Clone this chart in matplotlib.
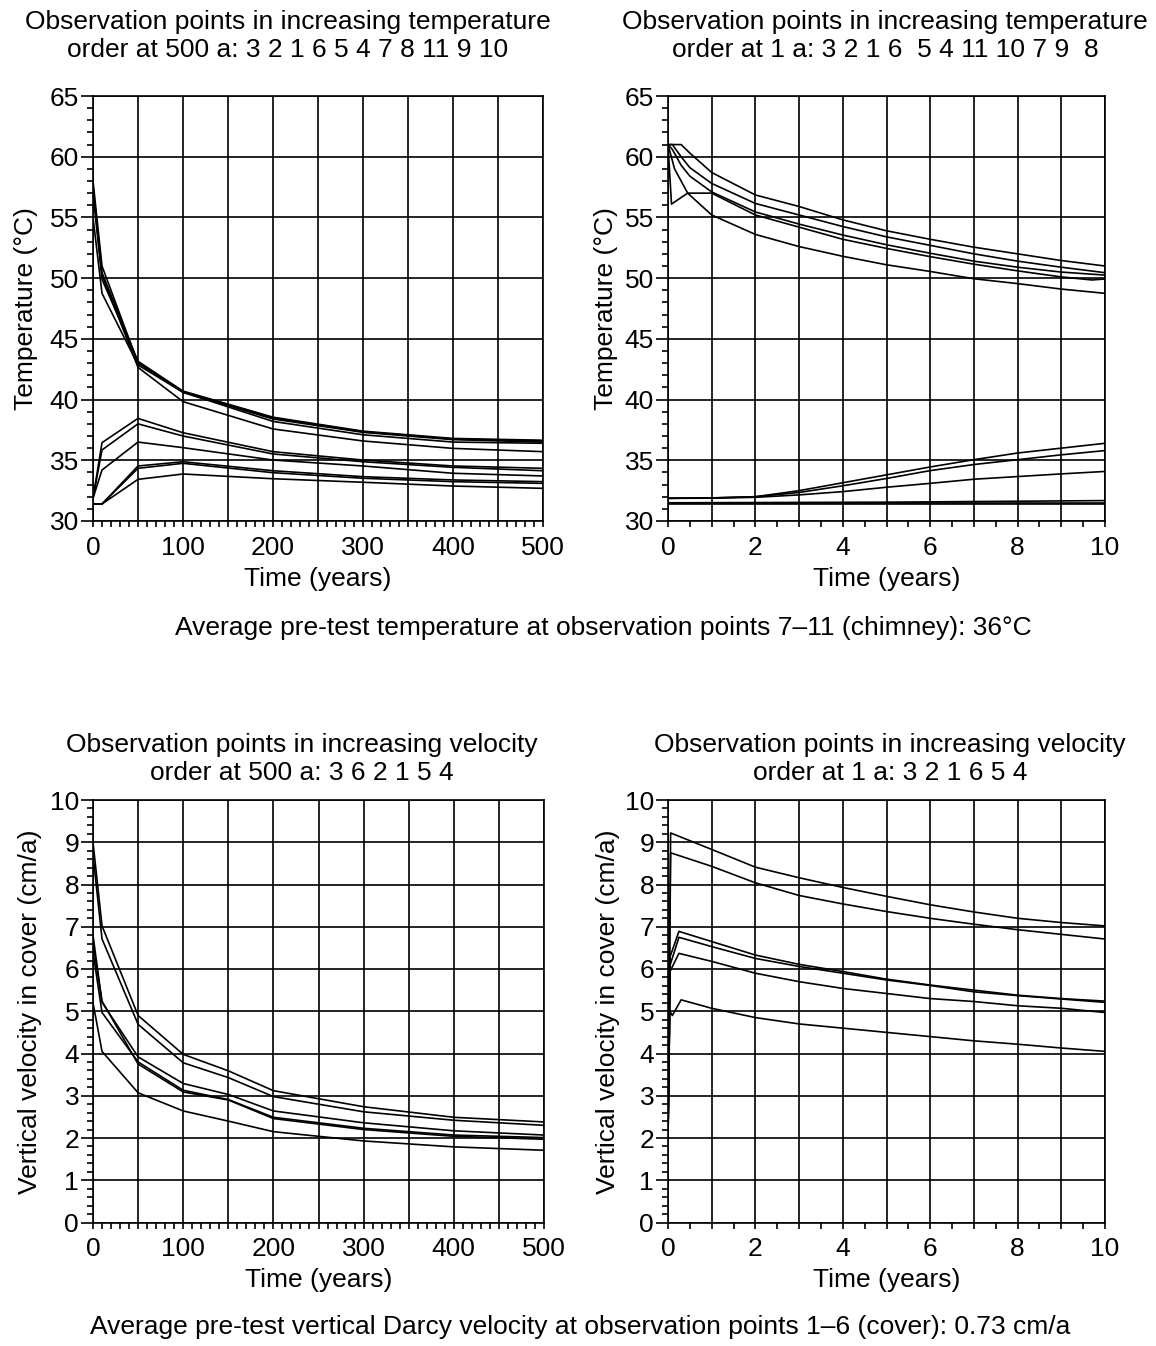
import matplotlib
matplotlib.use("Agg")
import matplotlib.pyplot as plt
from matplotlib.ticker import MultipleLocator, FuncFormatter

plt.rcParams['font.family'] = ['Liberation Sans', 'DejaVu Sans']
FS = 19

# ---------------- Temperature, 0-500 years ----------------
t_long = [0, 10, 50, 100, 200, 300, 400, 500]
temp_long = {
    # chimney points
    7:  [57.5, 50.25, 42.65, 39.83, 37.58, 36.59, 35.98, 35.71],
    8:  [58.0, 51.0, 43.0, 40.6, 38.2, 37.1, 36.5, 36.4],
    11: [55.0, 48.75, 42.85, 40.6, 38.4, 37.3, 36.7, 36.5],
    9:  [57.5, 50.45, 43.1, 40.65, 38.5, 37.35, 36.75, 36.6],
    10: [57.0, 49.9, 43.15, 40.7, 38.55, 37.4, 36.8, 36.65],
    # cover points
    4:  [31.87, 36.45, 38.45, 37.27, 35.71, 35.02, 34.53, 34.34],
    5:  [31.87, 35.85, 38.0, 37.0, 35.52, 34.88, 34.42, 34.14],
    6:  [31.87, 34.2, 36.5, 36.04, 35.02, 34.53, 33.93, 33.71],
    1:  [31.4, 31.4, 34.53, 34.88, 34.14, 33.65, 33.38, 33.24],
    2:  [31.4, 31.4, 34.34, 34.75, 33.98, 33.52, 33.24, 33.1],
    3:  [31.4, 31.4, 33.43, 33.87, 33.48, 33.19, 32.88, 32.69],
}

# ---------------- Temperature, 0-10 years ----------------
t_short_std = [0, 0.1, 0.3, 0.5, 1, 2, 3, 4, 5, 6, 7, 8, 9, 10]
temp_short = {
    8:  (t_short_std, [61.0, 61.0, 61.0, 60.3, 58.7, 56.85, 55.9, 54.8, 53.9, 53.2, 52.55, 52.0, 51.45, 51.0]),
    9:  (t_short_std, [61.0, 61.0, 60.0, 59.1, 57.8, 56.15, 55.2, 54.25, 53.4, 52.7, 52.0, 51.4, 50.9, 50.45]),
    7:  (t_short_std, [61.0, 60.6, 59.3, 58.4, 57.1, 55.45, 54.45, 53.55, 52.75, 52.05, 51.4, 50.9, 50.5, 50.25]),
    10: ([0, 0.08, 0.45, 1, 2, 3, 4, 5, 6, 7, 8, 9, 9.7, 10],
         [61.0, 56.1, 57.0, 57.0, 55.2, 54.2, 53.2, 52.45, 51.77, 51.15, 50.6, 50.1, 49.85, 49.93]),
    11: ([0, 0.15, 0.45, 1, 2, 3, 4, 5, 6, 7, 8, 9, 10],
         [61.0, 59.0, 57.0, 55.2, 53.6, 52.6, 51.8, 51.1, 50.55, 49.95, 49.55, 49.1, 48.75]),
    4:  ([0, 1, 2, 3, 4, 5, 6, 7, 8, 9, 10],
         [31.87, 31.9, 32.0, 32.5, 33.15, 33.8, 34.45, 35.05, 35.6, 36.0, 36.4]),
    5:  ([0, 1, 2, 3, 4, 5, 6, 7, 8, 9, 10],
         [31.87, 31.9, 32.0, 32.35, 32.9, 33.5, 34.15, 34.65, 35.05, 35.45, 35.8]),
    6:  ([0, 1, 2, 3, 4, 5, 6, 7, 8, 9, 10],
         [31.87, 31.88, 31.95, 32.15, 32.42, 32.78, 33.1, 33.44, 33.66, 33.88, 34.08]),
    1:  ([0, 5, 10], [31.5, 31.55, 31.68]),
    2:  ([0, 10], [31.46, 31.46]),
    3:  ([0, 10], [31.4, 31.4]),
}

# ---------------- Vertical velocity, 0-500 years ----------------
t_vel_long = [0, 10, 50, 100, 150, 200, 300, 400, 500]
vel_long = {
    4: [9.0, 7.02, 4.9, 3.98, 3.59, 3.12, 2.74, 2.49, 2.38],
    5: [8.7, 6.71, 4.69, 3.78, 3.43, 2.98, 2.62, 2.42, 2.3],
    1: [6.8, 5.21, 3.92, 3.29, 3.03, 2.64, 2.36, 2.17, 2.07],
    2: [6.4, 4.97, 3.8, 3.13, 2.91, 2.49, 2.23, 2.07, 2.01],
    6: [6.6, 5.24, 3.75, 3.09, 2.9, 2.46, 2.2, 2.04, 1.97],
    3: [5.2, 4.05, 3.07, 2.64, 2.4, 2.15, 1.93, 1.79, 1.71],
}

# ---------------- Vertical velocity, 0-10 years ----------------
t_vel_short = [0, 0.06, 1, 2, 3, 4, 5, 6, 7, 8, 9, 10]
t_vel_short_mid = [0, 0.05, 0.25, 1, 2, 3, 4, 5, 6, 7, 8, 9, 10]
vel_short = {
    4: (t_vel_short, [2.0, 9.22, 8.83, 8.41, 8.16, 7.93, 7.72, 7.52, 7.35, 7.2, 7.1, 7.02]),
    5: (t_vel_short, [2.0, 8.75, 8.43, 8.04, 7.74, 7.54, 7.36, 7.2, 7.06, 6.93, 6.82, 6.71]),
    6: (t_vel_short_mid, [2.0, 6.3, 6.89, 6.65, 6.33, 6.11, 5.94, 5.76, 5.62, 5.5, 5.38, 5.3, 5.24]),
    1: (t_vel_short_mid, [2.0, 6.1, 6.75, 6.53, 6.25, 6.06, 5.9, 5.74, 5.61, 5.46, 5.37, 5.29, 5.21]),
    2: (t_vel_short_mid, [2.0, 5.95, 6.37, 6.18, 5.9, 5.7, 5.54, 5.42, 5.3, 5.23, 5.13, 5.07, 4.97]),
    3: ([0, 0.04, 0.1, 0.3, 1, 2, 3, 4, 5, 6, 7, 8, 9, 10],
        [2.0, 5.0, 4.9, 5.27, 5.07, 4.85, 4.7, 4.6, 4.5, 4.4, 4.3, 4.22, 4.13, 4.05]),
}

titles = {
    'tl': ("Observation points in increasing temperature",
           "order at 500 a: 3 2 1 6 5 4 7 8 11 9 10"),
    'tr': ("Observation points in increasing temperature",
           "order at 1 a: 3 2 1 6  5 4 11 10 7 9  8"),
    'bl': ("Observation points in increasing velocity",
           "order at 500 a: 3 6 2 1 5 4"),
    'br': ("Observation points in increasing velocity",
           "order at 1 a: 3 2 1 6 5 4"),
}
caption_temp = "Average pre-test temperature at observation points 7\u201311 (chimney): 36\u00b0C"
caption_vel = "Average pre-test vertical Darcy velocity at observation points 1\u20136 (cover): 0.73 cm/a"

W, H = 1156, 1346
fig = plt.figure(figsize=(W / 100, H / 100), dpi=100)


def px_axes(x0, x1, ytop, ybot):
    return fig.add_axes([x0 / W, 1 - ybot / H, (x1 - x0) / W, (ybot - ytop) / H])


LW = 1.2


def style(ax, xlim, ylim, xmaj, xmin, xlab_step, ymaj, ymin, ylabel, ylab_x):
    ax.set_xlim(*xlim)
    ax.set_ylim(*ylim)
    ax.xaxis.set_major_locator(MultipleLocator(xmaj))
    ax.xaxis.set_minor_locator(MultipleLocator(xmin))
    ax.yaxis.set_major_locator(MultipleLocator(ymaj))
    ax.yaxis.set_minor_locator(MultipleLocator(ymin))

    def fmt(v, pos, step=xlab_step):
        r = round(v / step)
        if abs(v - r * step) < 1e-6:
            return f"{int(round(v))}"
        return ""

    ax.xaxis.set_major_formatter(FuncFormatter(fmt))
    ax.yaxis.set_major_formatter(FuncFormatter(lambda v, p: f"{int(round(v))}"))
    ax.grid(True, which='major', color='black', lw=LW)
    ax.set_axisbelow(False)
    for s in ax.spines.values():
        s.set_linewidth(LW)
        s.set_color('black')
    ax.tick_params(axis='y', which='major', direction='out', length=9, width=LW,
                   labelsize=FS, pad=1)
    ax.tick_params(axis='y', which='minor', direction='out', length=4.5, width=LW)
    ax.tick_params(axis='x', which='major', direction='out', length=4.5, width=LW,
                   labelsize=FS, pad=6)
    ax.tick_params(axis='x', which='minor', direction='out', length=4.5, width=LW)
    ax.set_xlabel("Time (years)", fontsize=FS, labelpad=5)
    ax.set_ylabel(ylabel, fontsize=FS)
    ax.yaxis.set_label_coords(ylab_x, 0.5)


# Top-left
ax1 = px_axes(93, 543, 96, 521)
for k, v in temp_long.items():
    ax1.plot(t_long, v, color='black', lw=LW)
style(ax1, (0, 500), (30, 65), 50, 10, 100, 5, 1, "Temperature (\u00b0C)", -0.122)

# Top-right
ax2 = px_axes(668, 1105, 96, 521)
for k, (t, v) in temp_short.items():
    ax2.plot(t, v, color='black', lw=LW)
style(ax2, (0, 10), (30, 65), 1, 0.5, 2, 5, 1, "Temperature (\u00b0C)", -0.114)

# Bottom-left
ax3 = px_axes(93, 544, 800, 1222.5)
for k, v in vel_long.items():
    ax3.plot(t_vel_long, v, color='black', lw=LW)
style(ax3, (0, 500), (0, 10), 50, 10, 100, 1, 0.2,
      "Vertical velocity in cover (cm/a)", -0.113)

# Bottom-right
ax4 = px_axes(668, 1105, 800, 1222.5)
for k, (t, v) in vel_short.items():
    ax4.plot(t, v, color='black', lw=LW)
style(ax4, (0, 10), (0, 10), 1, 0.5, 2, 1, 0.2,
      "Vertical velocity in cover (cm/a)", -0.110)


def title_lines(xc, y1, y2, lines):
    fig.text(xc / W, 1 - y1 / H, lines[0], ha='center', va='center', fontsize=FS)
    fig.text(xc / W, 1 - y2 / H, lines[1], ha='center', va='center', fontsize=FS)


title_lines(288, 22, 50, titles['tl'])
title_lines(885, 22, 50, titles['tr'])
title_lines(302, 745, 773, titles['bl'])
title_lines(890, 745, 773, titles['br'])

fig.text(603 / W, 1 - 628 / H, caption_temp, ha='center', va='center', fontsize=FS)
fig.text(580 / W, 1 - 1327 / H, caption_vel, ha='center', va='center', fontsize=FS)

fig.savefig("out.png", dpi=100, facecolor='white')
